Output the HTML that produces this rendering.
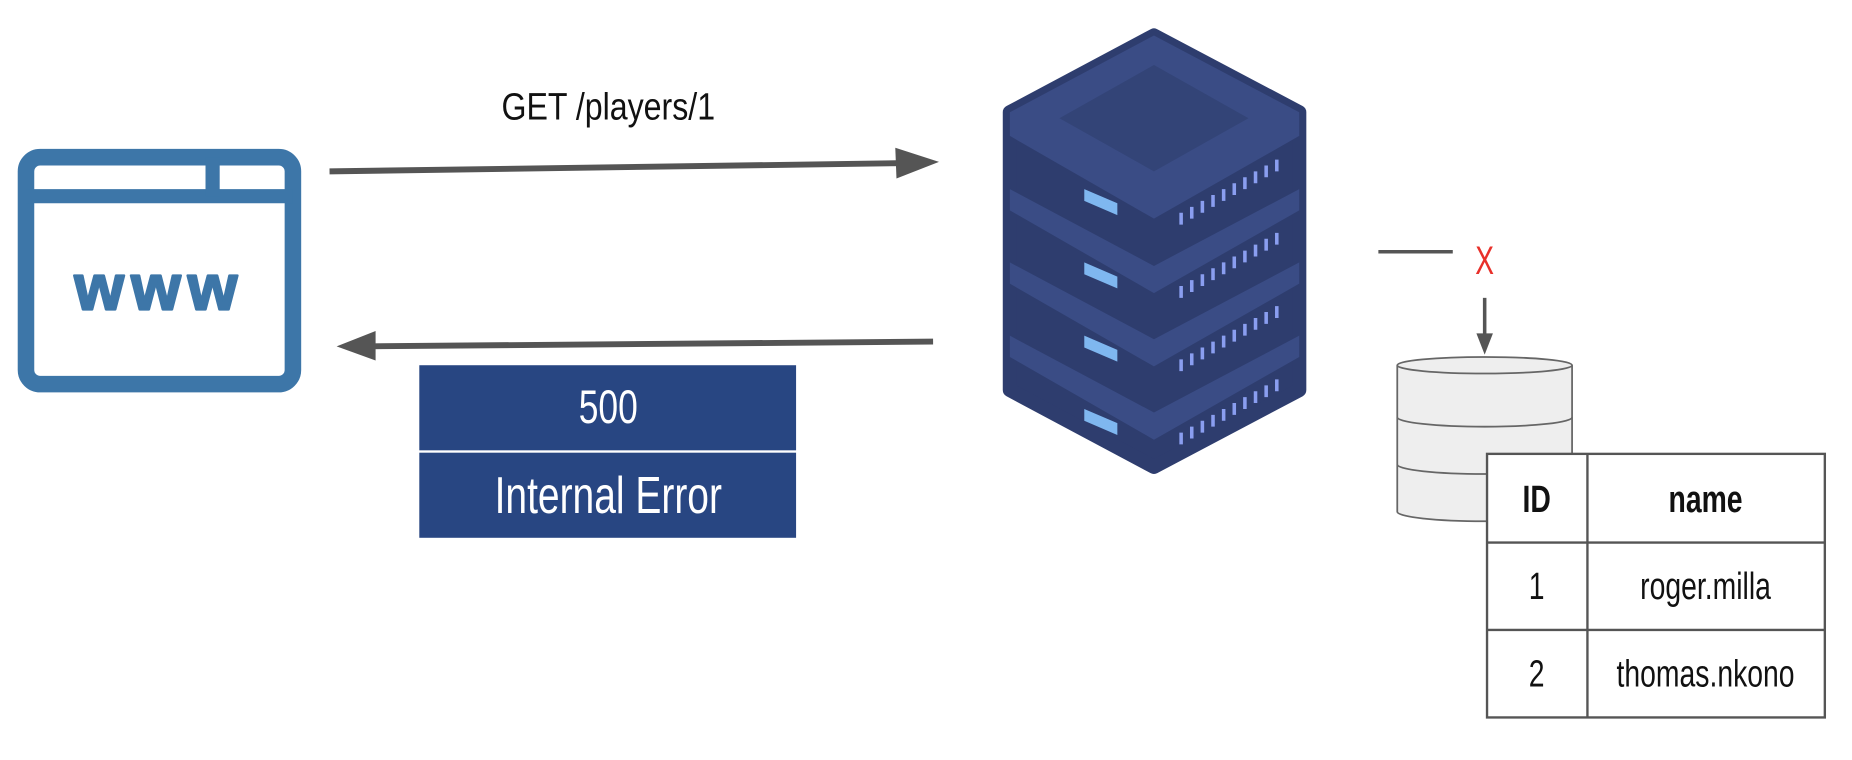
<!DOCTYPE html>
<html><head><meta charset="utf-8"><style>html,body{margin:0;padding:0;background:#fff;}svg{display:block}</style></head>
<body>
<svg width="1852" height="760" viewBox="0 0 1568 643" preserveAspectRatio="none" xmlns="http://www.w3.org/2000/svg" font-family="Liberation Sans, sans-serif">
<!-- browser -->
<rect x="22" y="133" width="226" height="192" rx="12" fill="none" stroke="#3d76a8" stroke-width="14"/>
<line x1="22" y1="166" x2="248" y2="166" stroke="#3d76a8" stroke-width="12"/>
<line x1="180" y1="133" x2="180" y2="166" stroke="#3d76a8" stroke-width="12"/>
<text x="135" y="262" text-anchor="middle" font-size="54" font-weight="bold" fill="#3d76a8" letter-spacing="6" stroke="#3d76a8" stroke-width="2" stroke-linejoin="round">www</text>
<!-- top arrow -->
<line x1="279" y1="145" x2="765" y2="138" stroke="#555" stroke-width="5"/>
<polygon points="795,137 758,125 759,151" fill="#555"/>
<text x="515" y="101" text-anchor="middle" font-size="32" fill="#111" transform="translate(515,0) scale(0.85,1) translate(-515,0)">GET /players/1</text>
<!-- bottom arrow -->
<line x1="790" y1="289" x2="312" y2="293" stroke="#555" stroke-width="5"/>
<polygon points="285,293 318,280 318,305" fill="#555"/>
<rect x="355" y="309" width="319" height="72" fill="#284682"/>
<rect x="355" y="383" width="319" height="72" fill="#284682"/>
<text x="515" y="358" text-anchor="middle" font-size="40" fill="#fff" transform="translate(515,0) scale(0.75,1) translate(-515,0)">500</text>
<text x="515" y="434" text-anchor="middle" font-size="44" fill="#fff" transform="translate(515,0) scale(0.75,1) translate(-515,0)">Internal Error</text>
<!-- server -->
<g stroke-linejoin="round">
<polygon points="977,30 1100,95 1100,330 977,395 855,330 855,95" fill="#2e3d6e" stroke="#2e3d6e" stroke-width="12"/>
<g fill="#3a4c85">
<polygon points="855,95 977,30 1100,95 1100,115 977,185 855,115"/>
<polygon points="855,160 977,225 1100,160 1100,178 977,248 855,178"/>
<polygon points="855,222 977,287 1100,222 1100,240 977,310 855,240"/>
<polygon points="855,284 977,349 1100,284 1100,302 977,372 855,302"/>
</g>
<polygon points="977,55 1057,100 977,145 897,100" fill="#334477"/>
<g fill="#7fb7f0">
<polygon points="918,160 946,172 946,182 918,170"/>
<polygon points="918,222 946,234 946,244 918,232"/>
<polygon points="918,284 946,296 946,306 918,294"/>
<polygon points="918,346 946,358 946,368 918,356"/>
</g>
<g stroke="#8a9ef0" stroke-width="3">
<path d="M1000,180v10M1009,175v10M1018,170v10M1027,165v10M1036,160v10M1045,155v10M1054,150v10M1063,145v10M1072,140v10M1081,135v10"/>
<path d="M1000,242v10M1009,237v10M1018,232v10M1027,227v10M1036,222v10M1045,217v10M1054,212v10M1063,207v10M1072,202v10M1081,197v10"/>
<path d="M1000,304v10M1009,299v10M1018,294v10M1027,289v10M1036,284v10M1045,279v10M1054,274v10M1063,269v10M1072,264v10M1081,259v10"/>
<path d="M1000,366v10M1009,361v10M1018,356v10M1027,351v10M1036,346v10M1045,341v10M1054,336v10M1063,331v10M1072,326v10M1081,321v10"/>
</g>
</g>
<!-- db link -->
<line x1="1167" y1="213" x2="1230" y2="213" stroke="#555" stroke-width="3"/>
<text x="1257" y="232" text-anchor="middle" font-size="34" fill="#e8302a" transform="translate(1257,0) scale(0.7,1) translate(-1257,0)">X</text>
<line x1="1257" y1="252" x2="1257" y2="285" stroke="#555" stroke-width="3"/>
<polygon points="1257,300 1250,282 1264,282" fill="#555"/>
<!-- cylinder -->
<path d="M1183,309 V433 A74,8 0 0 0 1331,433 V309" fill="#eee" stroke="#666" stroke-width="1.5"/>
<ellipse cx="1257" cy="309" rx="74" ry="7" fill="#eee" stroke="#666" stroke-width="1.5"/>
<path d="M1183,353 A74,8 0 0 0 1331,353 M1183,393 A74,8 0 0 0 1331,393" fill="none" stroke="#666" stroke-width="1.5"/>
<!-- table -->
<rect x="1259" y="384" width="286" height="223" fill="#fff" stroke="#555" stroke-width="2"/>
<line x1="1344" y1="384" x2="1344" y2="607" stroke="#555" stroke-width="2"/>
<line x1="1259" y1="459" x2="1545" y2="459" stroke="#555" stroke-width="2"/>
<line x1="1259" y1="533" x2="1545" y2="533" stroke="#555" stroke-width="2"/>
<g font-size="32" fill="#111" text-anchor="middle">
<text x="1301" y="433" font-weight="bold" transform="translate(1301,0) scale(0.75,1) translate(-1301,0)">ID</text>
<text x="1444" y="433" font-weight="bold" transform="translate(1444,0) scale(0.75,1) translate(-1444,0)">name</text>
<text x="1301" y="507" transform="translate(1301,0) scale(0.75,1) translate(-1301,0)">1</text>
<text x="1444" y="507" transform="translate(1444,0) scale(0.75,1) translate(-1444,0)">roger.milla</text>
<text x="1301" y="581" transform="translate(1301,0) scale(0.75,1) translate(-1301,0)">2</text>
<text x="1444" y="581" transform="translate(1444,0) scale(0.75,1) translate(-1444,0)">thomas.nkono</text>
</g>
</svg>
</body></html>
